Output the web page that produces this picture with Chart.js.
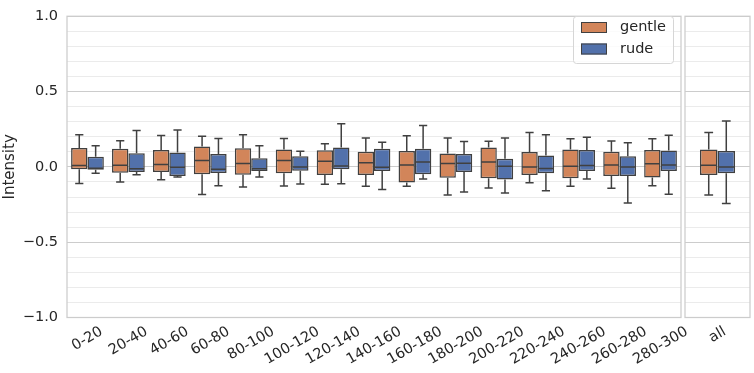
<!DOCTYPE html>
<html><head><meta charset="utf-8">
<script src="https://cdn.jsdelivr.net/npm/chart.js@4"></script>
<style>
html,body{margin:0;padding:0;background:#fff;}
#wrap{position:relative;width:754px;height:373px;overflow:hidden;}
.pane{position:absolute;top:0;}
</style></head><body>
<div id="wrap">
<div class="pane" style="left:0;width:754px;height:373px"><canvas id="c1" width="754" height="373"></canvas></div>
<div class="pane" style="left:683px;width:71px;height:373px"><canvas id="c2" width="71" height="373"></canvas></div>
</div>
<script>
// ---- data ----
const categories = ['0-20','20-40','40-60','60-80','80-100','100-120','120-140','140-160','160-180','180-200','200-220','220-240','240-260','260-280','280-300'];
const allCategory = ['all'];
const seriesNames = ['gentle', 'rude'];
const yTickValues = [-1.0, -0.5, 0.0, 0.5, 1.0];

const gentleHigh   = [0.213, 0.174, 0.209, 0.204, 0.213, 0.189, 0.153, 0.191, 0.206, 0.191, 0.170, 0.228, 0.187, 0.172, 0.186];
const gentleQ3     = [0.125, 0.120, 0.112, 0.135, 0.123, 0.116, 0.110, 0.101, 0.105, 0.088, 0.129, 0.099, 0.116, 0.100, 0.112];
const gentleMedian = [0.009, 0.011, 0.015, 0.043, 0.022, 0.043, 0.037, 0.028, 0.013, 0.022, 0.032, 0.000, 0.004, 0.012, 0.020];
const gentleQ1     = [-0.015, -0.039, -0.034, -0.049, -0.052, -0.043, -0.054, -0.054, -0.103, -0.073, -0.075, -0.054, -0.075, -0.060, -0.070];
const gentleLow    = [-0.110, -0.101, -0.086, -0.183, -0.133, -0.127, -0.116, -0.129, -0.129, -0.187, -0.140, -0.105, -0.129, -0.142, -0.125];

const rudeHigh   = [0.140, 0.241, 0.245, 0.189, 0.140, 0.103, 0.286, 0.163, 0.275, 0.168, 0.191, 0.213, 0.196, 0.160, 0.210];
const rudeQ3     = [0.067, 0.090, 0.095, 0.086, 0.058, 0.071, 0.129, 0.120, 0.120, 0.086, 0.054, 0.075, 0.112, 0.070, 0.108];
const rudeMedian = [-0.009, -0.013, -0.002, -0.015, -0.013, 0.000, 0.006, -0.002, 0.032, 0.024, 0.004, -0.010, 0.009, 0.000, 0.012];
const rudeQ1     = [-0.019, -0.034, -0.060, -0.041, -0.028, -0.026, -0.015, -0.028, -0.049, -0.034, -0.084, -0.043, -0.028, -0.060, -0.027];
const rudeLow    = [-0.043, -0.052, -0.067, -0.125, -0.067, -0.114, -0.112, -0.151, -0.080, -0.166, -0.174, -0.159, -0.080, -0.240, -0.182];

// "all" panel: [low, q1, median, q3, high]
const allGentle = [-0.187, -0.054, 0.011, 0.116, 0.228];
const allRude   = [-0.243, -0.043, 0.000, 0.105, 0.305];

// ---- style ----
const FONT = "'DejaVu Sans', 'Liberation Sans', sans-serif";
const TEXT = '#262626';
const EDGE = '#404040';
const COLORS = ['#d2855a', '#5271ab'];
const MAJOR_GRID = '#cccccc';
const MINOR_GRID = '#ebebeb';

function isMajor(v) { return Math.abs(v * 2 - Math.round(v * 2)) < 1e-6; }
function fmt(v) {
  const r = Math.round(v * 10) / 10;
  const s = Math.abs(r).toFixed(1);
  return r < 0 ? '\u2212' + s : s;
}

function makeDatasets(lows, q1s, meds, q3s, highs) {
  return seriesNames.map((name, k) => ({
    label: name,
    data: q1s[k].map((q, i) => [q, q3s[k][i]]),
    low: lows[k], median: meds[k], high: highs[k],
    backgroundColor: COLORS[k],
    borderColor: EDGE,
    borderWidth: 1.5,
    borderSkipped: false,
  }));
}

const boxExtras = {
  id: 'boxExtras',
  afterDatasetsDraw(chart) {
    const ctx = chart.ctx, y = chart.scales.y;
    chart.data.datasets.forEach((ds, di) => {
      const meta = chart.getDatasetMeta(di);
      meta.data.forEach((el, i) => {
        const x = el.x, w = el.width;
        const yMed = y.getPixelForValue(ds.median[i]);
        const yQ1 = y.getPixelForValue(ds.data[i][0]);
        const yQ3 = y.getPixelForValue(ds.data[i][1]);
        const yLo = y.getPixelForValue(ds.low[i]);
        const yHi = y.getPixelForValue(ds.high[i]);
        ctx.save();
        ctx.strokeStyle = EDGE; ctx.lineWidth = 1.5; ctx.lineCap = 'butt';
        ctx.beginPath();
        ctx.moveTo(x - w / 2 + 0.75, yMed); ctx.lineTo(x + w / 2 - 0.75, yMed);
        ctx.moveTo(x, yQ3); ctx.lineTo(x, yHi);
        ctx.moveTo(x - w / 4, yHi); ctx.lineTo(x + w / 4, yHi);
        ctx.moveTo(x, yQ1); ctx.lineTo(x, yLo);
        ctx.moveTo(x - w / 4, yLo); ctx.lineTo(x + w / 4, yLo);
        ctx.stroke();
        ctx.restore();
      });
    });
  }
};

const frame = {
  id: 'frame',
  beforeDatasetsDraw(chart) {
    const a = chart.chartArea, ctx = chart.ctx;
    ctx.save();
    ctx.strokeStyle = MAJOR_GRID; ctx.lineWidth = 1.25;
    ctx.strokeRect(a.left, a.top, a.right - a.left, a.bottom - a.top);
    ctx.restore();
  }
};

const xLabels = {
  id: 'xLabels',
  afterDraw(chart) {
    const ctx = chart.ctx, xs = chart.scales.x, a = chart.chartArea;
    const ang = 30 * Math.PI / 180;
    ctx.save();
    ctx.font = '14.5px ' + FONT;
    ctx.fillStyle = TEXT;
    ctx.textAlign = 'center'; ctx.textBaseline = 'middle';
    chart.data.labels.forEach((lab, i) => {
      const x = xs.getPixelForTick(i);
      const w = ctx.measureText(lab).width;
      const h = 12;
      const bh = w * Math.sin(ang) + h * Math.cos(ang);
      const cy = a.bottom + 8 + bh / 2;
      ctx.save();
      ctx.translate(x, cy);
      ctx.rotate(-ang);
      ctx.fillText(lab, 0, 0);
      ctx.restore();
    });
    ctx.restore();
  }
};

const legendBox = {
  id: 'legendBox',
  afterDraw(chart) {
    const ctx = chart.ctx;
    const bx = 573, by = 16, bw = 100, bh = 47;
    ctx.save();
    ctx.fillStyle = 'rgba(255,255,255,0.8)';
    ctx.strokeStyle = '#d6d6d6'; ctx.lineWidth = 1;
    ctx.beginPath();
    ctx.roundRect(bx + 0.5, by + 0.5, bw, bh, 3);
    ctx.fill(); ctx.stroke();
    ctx.font = '14.5px ' + FONT;
    ctx.textBaseline = 'middle'; ctx.textAlign = 'left';
    chart.data.datasets.forEach((ds, k) => {
      const sy = 22 + k * 21.5;
      ctx.fillStyle = ds.backgroundColor;
      ctx.fillRect(581, sy, 26, 11);
      ctx.strokeStyle = EDGE; ctx.lineWidth = 1;
      ctx.strokeRect(581.5, sy + 0.5, 25, 10);
      ctx.fillStyle = TEXT;
      ctx.fillText(ds.label, 620, sy + 5.5);
    });
    ctx.restore();
  }
};

function yScale(showLabels, width) {
  return {
    min: -1, max: 1,
    afterFit: s => { s.width = width; },
    border: { display: false },
    grid: {
      drawTicks: false,
      color: c => isMajor(c.tick.value) ? MAJOR_GRID : MINOR_GRID,
      lineWidth: 1,
    },
    ticks: {
      display: true,
      stepSize: 0.1,
      autoSkip: false,
      padding: 9,
      color: showLabels ? TEXT : 'rgba(0,0,0,0)',
      font: { family: FONT, size: 14.5, lineHeight: 1 },
      callback: v => (showLabels && isMajor(v) && yTickValues.some(t => Math.abs(t - v) < 1e-6)) ? fmt(v) : '',
    },
    title: showLabels ? {
      display: true, text: 'Intensity', color: TEXT,
      font: { family: FONT, size: 15, lineHeight: 1.2 },
      padding: { top: 1, bottom: 0 },
    } : { display: false },
  };
}

function xScale() {
  return {
    type: 'category',
    afterFit: s => { s.height = 55.5; },
    border: { display: false },
    grid: { display: false },
    ticks: { display: false },
  };
}

new Chart(document.getElementById('c1'), {
  type: 'bar',
  data: {
    labels: categories,
    datasets: makeDatasets(
      [gentleLow, rudeLow], [gentleQ1, rudeQ1], [gentleMedian, rudeMedian],
      [gentleQ3, rudeQ3], [gentleHigh, rudeHigh])
  },
  options: {
    responsive: false, animation: false, devicePixelRatio: 1,
    layout: { padding: { top: 7.5, right: 73, left: 0, bottom: 0 } },
    datasets: { bar: { categoryPercentage: 0.8, barPercentage: 1.0 } },
    plugins: { legend: { display: false }, tooltip: { enabled: false } },
    scales: { x: xScale(), y: yScale(true, 67) },
  },
  plugins: [frame, boxExtras, xLabels, legendBox],
});

new Chart(document.getElementById('c2'), {
  type: 'bar',
  data: {
    labels: allCategory,
    datasets: makeDatasets(
      [[allGentle[0]], [allRude[0]]], [[allGentle[1]], [allRude[1]]], [[allGentle[2]], [allRude[2]]],
      [[allGentle[3]], [allRude[3]]], [[allGentle[4]], [allRude[4]]])
  },
  options: {
    responsive: false, animation: false, devicePixelRatio: 1,
    layout: { padding: { top: 7.5, right: 4, left: 2, bottom: 0 } },
    datasets: { bar: { categoryPercentage: 0.54, barPercentage: 1.0 } },
    plugins: { legend: { display: false }, tooltip: { enabled: false } },
    scales: { x: xScale(), y: yScale(false, 0) },
  },
  plugins: [frame, boxExtras, xLabels],
});
</script>
</body></html>
